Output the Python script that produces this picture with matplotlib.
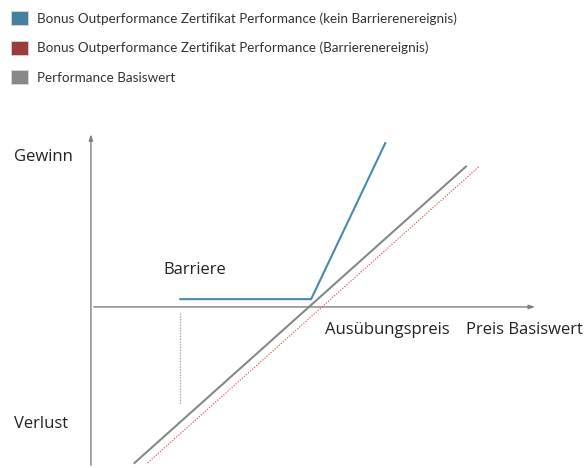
import matplotlib
matplotlib.use("Agg")
import matplotlib.pyplot as plt
from matplotlib.patches import Patch

plt.rcParams['font.family'] = ['Open Sans', 'DejaVu Sans']

# price of the underlying (x) and performance (y), strike at 100
basis_x = [20, 172]
basis_y = [-80, 72]
barrier_event_x = [26, 178]
barrier_event_y = [-80, 72]
no_event_x = [41, 101, 135]
no_event_y = [4, 4, 84]
barrier_x = [41, 41]
barrier_y = [-3, -50]

legend_labels = [
    "Bonus Outperformance Zertifikat Performance (kein Barrierenereignis)",
    "Bonus Outperformance Zertifikat Performance (Barrierenereignis)",
    "Performance Basiswert",
]
legend_colors = ["#45809f", "#9b3b3a", "#888888"]

fig = plt.figure(figsize=(5.85, 4.68), dpi=100)
ax = fig.add_axes([0, 0, 1, 1])
ax.set_xlim(-41.7, 226.6)
ax.set_ylim(-82.6, 157.4)
ax.axis("off")

# axes with arrows
arrow = dict(arrowstyle="-|>,head_length=0.35,head_width=0.12", color="#808080", lw=1)
ax.annotate("", xy=(205, 0), xytext=(0, 0), arrowprops=arrow)
ax.annotate("", xy=(0, 90), xytext=(0, -82.6), arrowprops=arrow)

ax.plot(barrier_x, barrier_y, color="#aaaaaa", lw=1, ls=(0, (1, 1)))
ax.plot(basis_x, basis_y, color="#888888", lw=1.5)
ax.plot(barrier_event_x, barrier_event_y, color="#e06060", lw=0.9, ls=(0, (1, 1.2)))
ax.plot(no_event_x, no_event_y, color="#4a88ad", lw=1.5)

txt = dict(fontsize=12, color="#222222")
ax.text(-35.3, 77, "Gewinn", va="center", ha="left", **txt)
ax.text(-35.3, -60, "Verlust", va="center", ha="left", **txt)
ax.text(33, 19, "Barriere", va="center", ha="left", **txt)
ax.text(107.3, -11.8, "Ausübungspreis", va="center", ha="left", **txt)
ax.text(172, -11.8, "Preis Basiswert", va="center", ha="left", **txt)

handles = [Patch(facecolor=c, edgecolor="#dddddd", lw=0.5) for c in legend_colors]
fig.legend(handles, legend_labels, loc="upper left", bbox_to_anchor=(0.0034, 0.996),
           frameon=False, handlelength=1.2, handleheight=1.2,
           handletextpad=0.7, labelspacing=1.17, borderpad=0.2,
           labelcolor="#333333", prop={'family': ['Lato', 'DejaVu Sans'], 'size': 9.7})

fig.savefig("out.png", dpi=100)
